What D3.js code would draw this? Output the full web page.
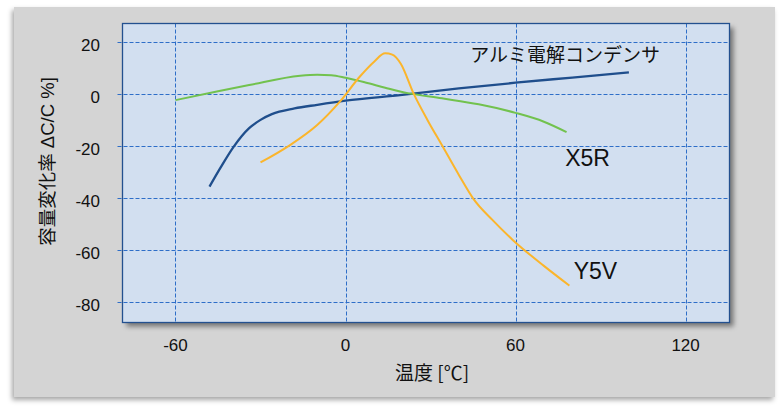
<!DOCTYPE html>
<html>
<head>
<meta charset="utf-8">
<script src="https://cdn.jsdelivr.net/npm/d3@7"></script>
<style>
  body { margin: 0; background: #fff; }
  svg { display: block; }
  .num { font-family: "Liberation Sans", Arial, sans-serif; fill: #111; }
  .jp { font-family: "Noto Sans CJK JP", "Noto Sans", sans-serif; fill: #111; }
</style>
</head>
<body>
<svg id="chart"></svg>
<script>
// data (temperature °C, ΔC/C %)
const xTicks = [-60, 0, 60, 120];
const yTicks = [20, 0, -20, -40, -60, -80];

const aluTemp = [-48, -44, -39.5, -34, -30, -26, -18, -10, 0, 20, 40, 60, 80, 100];
const aluCap  = [-35.5, -28, -20.2, -13, -9.8, -7.6, -5.4, -4, -2.4, -0.2, 2.3, 4.5, 6.5, 8.5];

const x5rTemp = [-60, -45, -34, -16, -10, -5, 0, 7, 14, 22, 34, 47, 60, 70, 78];
const x5rCap  = [-2.2, 1.2, 3.6, 7.2, 7.6, 7.4, 6.4, 4.6, 2.6, 0.5, -1.5, -3.8, -7.1, -10.5, -14.5];

const y5vTemp = [-30, -20, -10, -2, 5, 10, 14, 16.5, 19.5, 24, 29, 34, 40, 45, 52, 59, 70, 79];
const y5vCap  = [-26.2, -19.8, -11.8, -2.8, 6.8, 12.5, 15.8, 15.3, 11.8, 0.4, -10, -19.5, -31, -40, -48.5, -56, -66, -73.6];

const seriesNames = ["アルミ電解コンデンサ", "X5R", "Y5V"];
const seriesColors = ["#1f4e8c", "#72c24e", "#fbb52b"];
// label anchors in data units
const labelTemp = [44, 77.5, 80.5];
const labelCap  = [12.4, -27.6, -71];

const W = 783, H = 412;
const plot = { left: 122.5, top: 23.5, right: 729.5, bottom: 322.5 };

const svg = d3.select("#chart").attr("width", W).attr("height", H);

const defs = svg.append("defs");
const f1 = defs.append("filter").attr("id", "panelShadow")
  .attr("x", "-5%").attr("y", "-5%").attr("width", "110%").attr("height", "115%");
f1.append("feDropShadow").attr("dx", -2).attr("dy", 3).attr("stdDeviation", 2.5)
  .attr("flood-color", "#000").attr("flood-opacity", 0.35);
const f2 = defs.append("filter").attr("id", "plotShadow")
  .attr("x", "-5%").attr("y", "-5%").attr("width", "110%").attr("height", "115%");
f2.append("feDropShadow").attr("dx", 4).attr("dy", 4).attr("stdDeviation", 2.5)
  .attr("flood-color", "#000").attr("flood-opacity", 0.45);

// outer gray panel
svg.append("rect")
  .attr("x", 14).attr("y", 7).attr("width", 761).attr("height", 390)
  .attr("fill", "#d4d4d4").attr("filter", "url(#panelShadow)");

const x = d3.scaleLinear().domain([-78.7, 135.5]).range([plot.left, plot.right]);
const y = d3.scaleLinear().domain([-87.8, 27.3]).range([plot.bottom, plot.top]);

// plot area
svg.append("rect")
  .attr("x", plot.left).attr("y", plot.top)
  .attr("width", plot.right - plot.left).attr("height", plot.bottom - plot.top)
  .attr("fill", "#d2dff0").attr("filter", "url(#plotShadow)");

// gridlines
const grid = svg.append("g")
  .attr("stroke", "#2e6ec8").attr("stroke-width", 1).attr("stroke-dasharray", "4,2");
grid.selectAll(".vg").data(xTicks).join("line")
  .attr("x1", d => Math.round(x(d)) + 0.5).attr("x2", d => Math.round(x(d)) + 0.5)
  .attr("y1", plot.top).attr("y2", plot.bottom);
grid.selectAll(".hg").data(yTicks).join("line")
  .attr("y1", d => Math.round(y(d)) + 0.5).attr("y2", d => Math.round(y(d)) + 0.5)
  .attr("x1", plot.left - 5).attr("x2", plot.right);

// plot border
svg.append("rect")
  .attr("x", plot.left).attr("y", plot.top)
  .attr("width", plot.right - plot.left).attr("height", plot.bottom - plot.top)
  .attr("fill", "none").attr("stroke", "#23508f").attr("stroke-width", 1.3);

// tick labels
svg.append("g").selectAll("text").data(yTicks).join("text")
  .attr("class", "num").attr("font-size", 17).attr("text-anchor", "end")
  .attr("x", 100).attr("y", d => y(d) + 9)
  .text(d => d);

svg.append("g").selectAll("text").data(xTicks).join("text")
  .attr("class", "num").attr("font-size", 17).attr("text-anchor", "middle")
  .attr("x", d => x(d)).attr("y", 351)
  .text(d => d);

// axis titles
svg.append("text").attr("class", "jp").attr("font-size", 19)
  .attr("x", 395).attr("y", 380).text("温度 [℃]");

const yTitle = svg.append("text").attr("class", "jp").attr("font-size", 18.5)
  .attr("text-anchor", "middle")
  .attr("transform", "translate(54,161.5) rotate(-90)");
yTitle.append("tspan").text("容量変化率");
yTitle.append("tspan").attr("class", "num").text(" ΔC/C %]");

// curves
const line = d3.line()
  .x(d => x(d[0])).y(d => y(d[1]))
  .curve(d3.curveMonotoneX);

const series = [
  d3.zip(aluTemp, aluCap),
  d3.zip(x5rTemp, x5rCap),
  d3.zip(y5vTemp, y5vCap)
];

svg.append("g").selectAll("path").data(series).join("path")
  .attr("d", line)
  .attr("fill", "none")
  .attr("stroke", (d, i) => seriesColors[i])
  .attr("stroke-width", (d, i) => i === 0 ? 2.3 : 2)
  .attr("stroke-linecap", "butt");

// series labels
svg.append("g").selectAll("text").data(seriesNames).join("text")
  .attr("class", (d, i) => i === 0 ? "jp" : "num")
  .attr("font-size", (d, i) => i === 0 ? 19 : 23)
  .attr("x", (d, i) => x(labelTemp[i]))
  .attr("y", (d, i) => y(labelCap[i]))
  .text(d => d);
</script>
</body>
</html>
